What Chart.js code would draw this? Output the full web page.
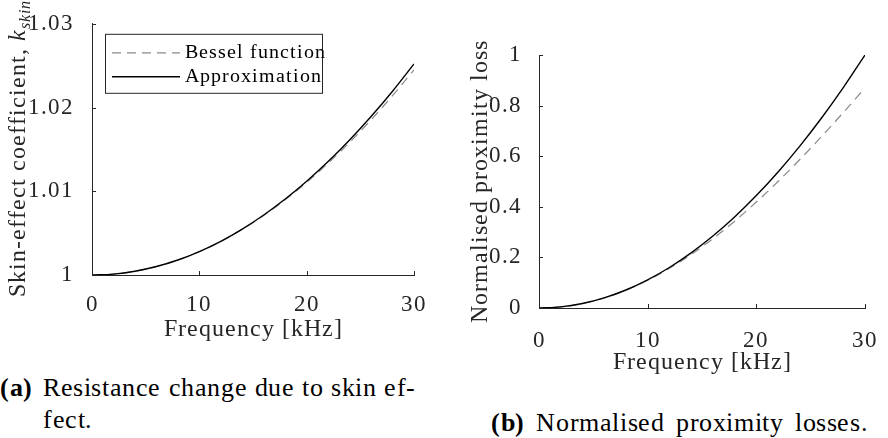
<!DOCTYPE html>
<html>
<head>
<meta charset="utf-8">
<script src="https://cdn.jsdelivr.net/npm/chart.js@4"></script>
<style>
  @font-face { font-family: 'PlotSerif'; src: local('Liberation Serif'), local('LiberationSerif'), local('DejaVu Serif'); font-weight: normal; font-style: normal; font-display: block; }
  @font-face { font-family: 'PlotSerif'; src: local('Liberation Serif Bold'), local('LiberationSerif-Bold'), local('DejaVu Serif Bold'); font-weight: bold; font-style: normal; font-display: block; }
  @font-face { font-family: 'PlotSerif'; src: local('Liberation Serif Italic'), local('LiberationSerif-Italic'), local('DejaVu Serif Italic'); font-weight: normal; font-style: italic; font-display: block; }
  body { margin: 0; width: 888px; height: 438px; overflow: hidden; position: relative; background: #fff; font-family: 'PlotSerif', 'Liberation Serif', 'DejaVu Serif', serif; color: #000; }
  canvas { position: absolute; }
  .cap { position: absolute; font-size: 26px; line-height: 32px; letter-spacing: 0.6px; white-space: nowrap; }
</style>
</head>
<body>
<canvas id="skinChart" width="440" height="350" style="left:0;top:0"></canvas>
<canvas id="proxChart" width="444" height="385" style="left:444px;top:0"></canvas>
<div class="cap" style="left:0;top:372px"><b>(a)</b></div>
<div class="cap" style="left:43px;top:372px">Resistance change due to skin ef-</div>
<div class="cap" style="left:43px;top:404px">fect.</div>
<div class="cap" style="left:491px;top:407px;word-spacing:4px"><b>(b)</b> Normalised proximity losses.</div>
<script>
// frequency in kHz
const freq = [0, 2, 4, 6, 8, 10, 12, 14, 16, 18, 20, 22, 24, 26, 28, 30];

// (a) skin-effect coefficient
const skinBessel = [1, 1.00011, 1.00045, 1.00101, 1.00179, 1.0028, 1.00401, 1.00546, 1.00711, 1.00898, 1.01106, 1.01335, 1.01584, 1.01853, 1.02142, 1.0245];
const skinApprox = [1, 1.00011, 1.00045, 1.00101, 1.00179, 1.0028, 1.00403, 1.00549, 1.00717, 1.00907, 1.0112, 1.01355, 1.01613, 1.01893, 1.02195, 1.0252];

// (b) normalised proximity loss
const proxBessel = [0, 0.0044, 0.0178, 0.0398, 0.0705, 0.1095, 0.1567, 0.2116, 0.2739, 0.3432, 0.4188, 0.5002, 0.5868, 0.6778, 0.7725, 0.87];
const proxApprox = [0, 0.0044, 0.0178, 0.04, 0.0711, 0.1111, 0.16, 0.2178, 0.2844, 0.36, 0.4444, 0.5378, 0.64, 0.7511, 0.8711, 1];

const freqTicks = [0, 10, 20, 30];
const skinTicks = [1, 1.01, 1.02, 1.03];
const proxTicks = [0, 0.2, 0.4, 0.6, 0.8, 1];

const axisColor = '#262626';
const fontName = "'PlotSerif', 'Liberation Serif', 'DejaVu Serif', serif";

const pts = (ys) => freq.map((f, i) => ({x: f, y: ys[i]}));

function makeDatasets(bessel, approx) {
  return [
    {
      label: 'Bessel function',
      data: pts(bessel),
      borderColor: '#8a8a8a',
      borderWidth: 1.2,
      borderDash: [9, 6],
      order: 1
    },
    {
      label: 'Approximation',
      data: pts(approx),
      borderColor: '#000',
      borderWidth: 1.4,
      order: 0
    }
  ];
}

// matlab style ticks, pointing inwards
const insideTicks = {
  id: 'insideTicks',
  afterDraw(chart) {
    const {ctx, chartArea: a, scales: {x, y}} = chart;
    ctx.save();
    ctx.strokeStyle = axisColor;
    ctx.lineWidth = 1;
    ctx.setLineDash([]);
    ctx.beginPath();
    x.ticks.forEach(t => {
      const px = Math.round(x.getPixelForValue(t.value)) + 0.5;
      ctx.moveTo(px, a.bottom);
      ctx.lineTo(px, a.bottom - 4);
    });
    y.ticks.forEach(t => {
      const py = Math.round(y.getPixelForValue(t.value)) + 0.5;
      ctx.moveTo(a.left, py);
      ctx.lineTo(a.left + 4, py);
    });
    ctx.stroke();
    ctx.restore();
  }
};

const spacing = {
  id: 'spacing',
  beforeDraw(chart) { chart.ctx.letterSpacing = '1px'; }
};

const legendBox = {
  id: 'legendBox',
  afterDraw(chart) {
    const {ctx, chartArea: a} = chart;
    const bx = a.left + 13, by = a.top + 10, bw = 217, bh = 59;
    ctx.save();
    ctx.fillStyle = '#fff';
    ctx.fillRect(bx, by, bw, bh);
    ctx.strokeStyle = axisColor;
    ctx.lineWidth = 1;
    ctx.strokeRect(bx + 0.5, by + 0.5, bw, bh);
    ctx.font = '20px ' + fontName;
    ctx.letterSpacing = '1px';
    ctx.textBaseline = 'middle';
    ctx.textAlign = 'left';
    chart.data.datasets.forEach((ds, i) => {
      const ry = by + 19 + i * 24;
      ctx.strokeStyle = ds.borderColor;
      ctx.lineWidth = ds.borderWidth;
      ctx.setLineDash(ds.borderDash || []);
      ctx.beginPath();
      ctx.moveTo(bx + 7, ry);
      ctx.lineTo(bx + 75, ry);
      ctx.stroke();
      ctx.fillStyle = '#000';
      ctx.fillText(ds.label, bx + 80, ry);
    });
    ctx.restore();
  }
};

// y title with the italic k_skin
const skinTitle = {
  id: 'skinTitle',
  afterDraw(chart) {
    const {ctx, chartArea: a} = chart;
    ctx.save();
    ctx.translate(25, a.bottom + 22);
    ctx.rotate(-Math.PI / 2);
    ctx.fillStyle = axisColor;
    ctx.textAlign = 'left';
    ctx.textBaseline = 'alphabetic';
    ctx.letterSpacing = '1px';
    const main = 'Skin-effect coefficient, ';
    ctx.font = '24px ' + fontName;
    ctx.fillText(main, 0, 0);
    let w = ctx.measureText(main).width;
    ctx.font = 'italic 24px ' + fontName;
    ctx.fillText('k', w, 0);
    w += ctx.measureText('k').width;
    ctx.font = 'italic 16px ' + fontName;
    ctx.fillText('skin', w, 5);
    ctx.restore();
  }
};

function chartConfig(opts) {
  return {
    type: 'line',
    data: { datasets: makeDatasets(opts.bessel, opts.approx) },
    options: {
      responsive: false,
      animation: false,
      devicePixelRatio: 1,
      layout: { padding: opts.padding },
      elements: {
        point: { radius: 0 },
        line: { cubicInterpolationMode: 'monotone', fill: false }
      },
      plugins: { legend: { display: false }, tooltip: { enabled: false } },
      scales: {
        x: {
          type: 'linear',
          min: 0,
          max: 30,
          afterBuildTicks: s => { s.ticks = freqTicks.map(v => ({value: v})); },
          afterFit: s => { s.height = opts.xHeight; },
          grid: { display: false },
          border: { display: true, color: axisColor, width: 1 },
          ticks: { color: axisColor, padding: opts.xPad, font: { family: fontName, size: 23 }, callback: v => String(v) },
          title: { display: true, text: 'Frequency [kHz]', color: axisColor, font: { family: fontName, size: 24 }, padding: { top: 0, bottom: opts.xTitlePad } }
        },
        y: {
          type: 'linear',
          min: opts.yMin,
          max: opts.yMax,
          afterBuildTicks: s => { s.ticks = opts.yTicks.map(v => ({value: v})); },
          afterFit: s => { s.width = opts.yWidth; },
          grid: { display: false },
          border: { display: true, color: axisColor, width: 1 },
          ticks: { color: axisColor, padding: opts.yPad, font: { family: fontName, size: 23 }, callback: v => String(v) },
          title: opts.yTitle
            ? { display: true, text: opts.yTitle, color: axisColor, font: { family: fontName, size: 24 }, padding: { top: opts.yTitlePad, bottom: 0 } }
            : { display: false }
        }
      }
    },
    plugins: opts.plugins
  };
}

const charts = [];
charts.push(new Chart(document.getElementById('skinChart'), chartConfig({
  bessel: skinBessel,
  approx: skinApprox,
  padding: { top: 23, right: 26, left: 0, bottom: 0 },
  xHeight: 75, xPad: 8, xTitlePad: 6,
  yMin: 1, yMax: 1.03, yTicks: skinTicks, yWidth: 92, yPad: 10,
  yTitle: null,
  plugins: [spacing, insideTicks, legendBox, skinTitle]
})));

charts.push(new Chart(document.getElementById('proxChart'), chartConfig({
  bessel: proxBessel,
  approx: proxApprox,
  padding: { top: 55, right: 15, left: 0, bottom: 0 },
  xHeight: 77, xPad: 11, xTitlePad: 8,
  yMin: 0, yMax: 1, yTicks: proxTicks, yWidth: 95, yPad: 9,
  yTitle: 'Normalised proximity loss', yTitlePad: 22,
  plugins: [spacing, insideTicks]
})));

// redraw once the serif faces are really there
const redraw = () => charts.forEach(c => c.update('none'));
Promise.all([
  document.fonts.load("23px 'PlotSerif'"),
  document.fonts.load("bold 23px 'PlotSerif'"),
  document.fonts.load("italic 23px 'PlotSerif'")
]).then(redraw, redraw);
document.fonts.ready.then(redraw);
</script>
</body>
</html>
